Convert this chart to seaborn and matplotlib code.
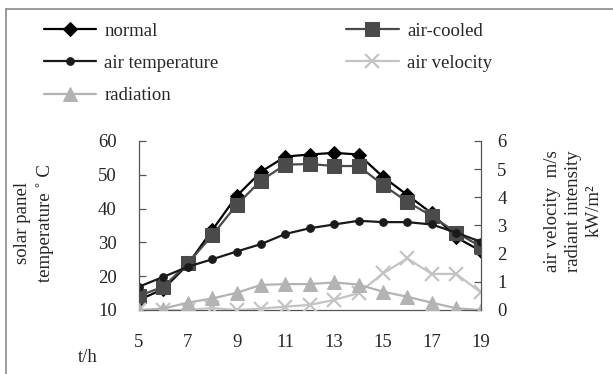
import matplotlib
matplotlib.use("Agg")
import matplotlib.pyplot as plt
from matplotlib.lines import Line2D
import seaborn as sns
import pandas as pd

sns.set_style("white")
plt.rcParams['font.family'] = ['Liberation Serif', 'DejaVu Serif']

hours = [5, 6, 7, 8, 9, 10, 11, 12, 13, 14, 15, 16, 17, 18, 19]
normal = [13.0, 16.2, 23.5, 33.6, 43.7, 50.9, 55.4, 56.0, 56.5, 56.0, 49.4, 44.0, 38.6, 31.5, 27.5]
air_cooled = [14.2, 16.9, 23.8, 32.1, 41.1, 48.3, 53.0, 53.2, 52.6, 52.6, 47.0, 42.0, 37.8, 32.9, 28.8]
air_temp = [16.9, 19.8, 22.8, 25.0, 27.3, 29.5, 32.5, 34.2, 35.3, 36.4, 36.0, 36.0, 35.3, 32.9, 30.2]
air_velocity = [0.0, 0.0, 0.0, 0.07, 0.0, 0.05, 0.12, 0.18, 0.36, 0.6, 1.3, 1.83, 1.28, 1.28, 0.63]
radiation = [0.0, 0.05, 0.26, 0.41, 0.61, 0.89, 0.92, 0.92, 0.98, 0.9, 0.65, 0.47, 0.26, 0.06, 0.0]

left_ticks = [10, 20, 30, 40, 50, 60]
right_ticks = [0, 1, 2, 3, 4, 5, 6]
x_ticks = [5, 7, 9, 11, 13, 15, 17, 19]

df = pd.DataFrame({"t": hours, "normal": normal, "air-cooled": air_cooled,
                   "air temperature": air_temp, "air velocity": air_velocity,
                   "radiation": radiation})

fig = plt.figure(figsize=(6.13, 3.74), dpi=100)
ax = fig.add_axes([139/613, 1-310/374, (480.6-139)/613, (310-141)/374])
ax2 = ax.twinx()

fs = 13.5
lw = 1.6
sns.lineplot(data=df, x="t", y="normal", ax=ax, color="#000000", marker="D",
             markersize=7.5, linewidth=lw, markeredgecolor="#000000", label="normal")
sns.lineplot(data=df, x="t", y="air-cooled", ax=ax, color="#4a4a4a", marker="s",
             markersize=9.5, linewidth=lw, markeredgecolor="#4a4a4a", label="air-cooled")
sns.lineplot(data=df, x="t", y="air temperature", ax=ax, color="#1a1a1a", marker="o",
             markersize=5.5, linewidth=lw, markeredgecolor="#1a1a1a", label="air temperature")
sns.lineplot(data=df, x="t", y="air velocity", ax=ax2, color="#c4c4c4", marker="x",
             markersize=10, markeredgewidth=1.6, markeredgecolor="#c4c4c4",
             linewidth=lw, label="air velocity")
sns.lineplot(data=df, x="t", y="radiation", ax=ax2, color="#b3b3b3", marker="^",
             markersize=9.5, linewidth=lw, markeredgecolor="#b3b3b3", label="radiation")

ax.set_xlim(5, 19)
ax.set_ylim(10, 60)
ax2.set_ylim(0, 6)
ax.set_xticks(x_ticks)
ax.set_yticks(left_ticks)
ax2.set_yticks(right_ticks)
ax.set_xlabel("")
ax.set_ylabel("")
ax2.set_ylabel("")

for a in (ax, ax2):
    a.spines['top'].set_visible(False)
    for s in a.spines.values():
        s.set_color("#555555")
        s.set_linewidth(0.9)
ax.spines['right'].set_visible(False)
ax2.spines['left'].set_visible(False)
ax2.spines['bottom'].set_visible(False)

ax.tick_params(axis='x', direction='in', length=5, width=0.9, color="#555555",
               labelsize=fs, pad=17)
ax.tick_params(axis='y', direction='in', length=5, width=0.9, color="#555555",
               labelsize=fs, pad=16, left=True)
ax2.tick_params(axis='y', direction='in', length=5, width=0.9, color="#555555",
                labelsize=fs, pad=12, right=True)

ax.get_legend().remove()
ax2.get_legend().remove()
h1, l1 = ax.get_legend_handles_labels()
h2, l2 = ax2.get_legend_handles_labels()
hmap = dict(zip(l1 + l2, h1 + h2))
order = ["normal", "air temperature", "radiation", "air-cooled", "air velocity"]
fig.legend([hmap[k] for k in order], order, ncol=2, loc="upper left",
           bbox_to_anchor=(36/613, 1-15/374), frameon=False, fontsize=fs,
           handlelength=2.8, handletextpad=0.45, columnspacing=6.8,
           labelspacing=0.81, borderaxespad=0)

fig.text(88/613, 1-357/374, "t/h", ha="center", va="center", fontsize=fs)
fig.text(34/613, 1-223/374, "solar panel\ntemperature \u02da C", rotation=90,
         ha="center", va="center", fontsize=fs, multialignment="center", linespacing=1.4)
fig.text(573/613, 1-211/374, "air velocity  m/s\nradiant intensity\nkW/m\u00b2", rotation=90,
         ha="center", va="center", fontsize=fs, multialignment="center", linespacing=1.3)

fig.add_artist(Line2D([6/613, 6/613], [0, 1-9/374], transform=fig.transFigure,
                      color="#8a8a8a", linewidth=1.2))
fig.add_artist(Line2D([6/613, 1], [1-9/374, 1-9/374], transform=fig.transFigure,
                      color="#8a8a8a", linewidth=1.2))

fig.savefig("out.png", dpi=100)
